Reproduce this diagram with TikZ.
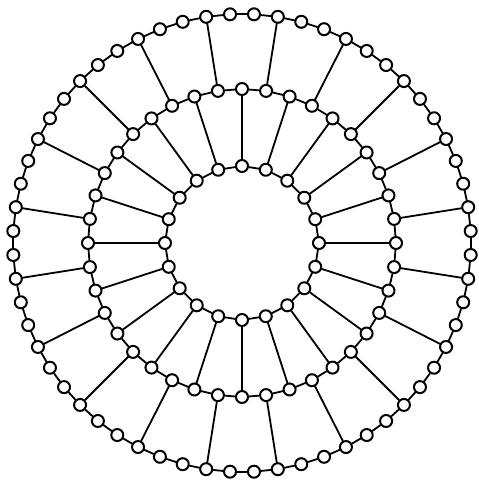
\documentclass[tikz,border=0pt]{standalone}
\usepackage{tikz}
\usetikzlibrary{calc}
\tikzset{
  vtx/.style={circle, draw, fill=white, minimum size=12pt, inner sep=0pt, line width=2pt},
  every picture/.style={line cap=round, line join=round}
}

\begin{document}
\begin{tikzpicture}[x=1pt, y=1pt, line width=1.8pt]
  \useasboundingbox (-242,-242) rectangle (237,243);

  % Rings of vertices
  \foreach \k in {0,...,19}
    \node[vtx] (i\k) at ({90-18*\k}:77) {};
  \foreach \k in {0,...,39}
    \node[vtx] (m\k) at ({90-9*\k}:154) {};
  \foreach \k in {0,...,59}
    \node[vtx] (o\k) at ({87-6*\k}:229) {};

  % Ring edges
  \foreach \k in {0,...,19}{
    \pgfmathtruncatemacro{\nxt}{mod(\k+1,20)}
    \draw (i\k) -- (i\nxt);
  }
  \foreach \k in {0,...,39}{
    \pgfmathtruncatemacro{\nxt}{mod(\k+1,40)}
    \draw (m\k) -- (m\nxt);
  }
  \foreach \k in {0,...,59}{
    \pgfmathtruncatemacro{\nxt}{mod(\k+1,60)}
    \draw (o\k) -- (o\nxt);
  }

  % Spokes
  \foreach \k in {0,...,19}{
    \pgfmathtruncatemacro{\mi}{2*\k}
    \pgfmathtruncatemacro{\mo}{2*\k+1}
    \pgfmathtruncatemacro{\oo}{3*\k+1}
    \draw (i\k) -- (m\mi);
    \draw (m\mo) -- (o\oo);
  }
\end{tikzpicture}
\end{document}
